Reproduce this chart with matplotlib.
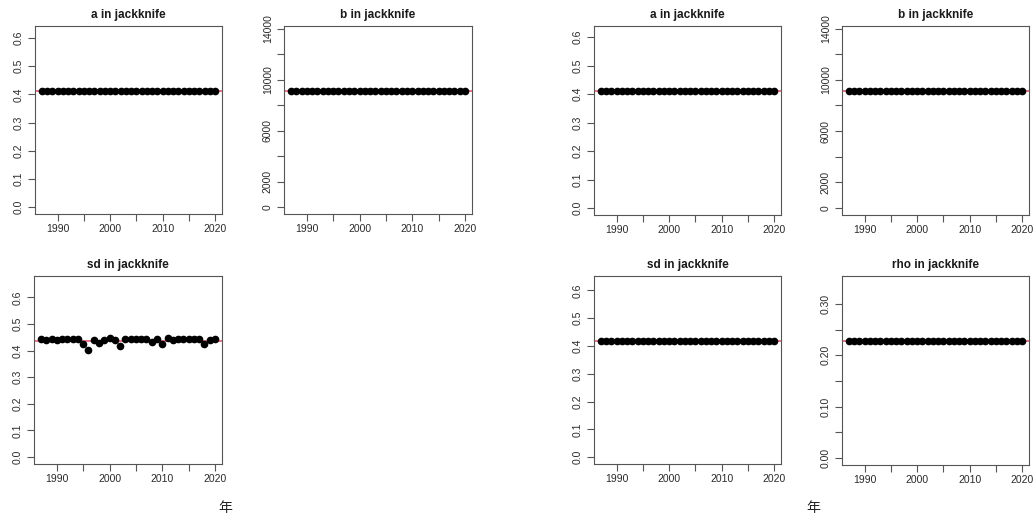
import numpy as np
import matplotlib.pyplot as plt

plt.rcParams['font.family'] = ['Liberation Sans', 'Noto Sans CJK SC', 'DejaVu Sans']

years = list(range(1987, 2021))

# left group: jackknife estimates
a_left = [0.412, 0.412, 0.412, 0.412, 0.412, 0.412, 0.412, 0.412, 0.412, 0.412, 0.412, 0.412,
          0.412, 0.412, 0.412, 0.412, 0.412, 0.412, 0.412, 0.412, 0.412, 0.412, 0.412, 0.412,
          0.412, 0.412, 0.412, 0.412, 0.412, 0.412, 0.412, 0.412, 0.412, 0.412]
b_left = [9120, 9120, 9120, 9120, 9120, 9120, 9120, 9120, 9120, 9120, 9120, 9120,
          9120, 9120, 9120, 9120, 9120, 9120, 9120, 9120, 9120, 9120, 9120, 9120,
          9120, 9120, 9120, 9120, 9120, 9120, 9120, 9120, 9120, 9120]
sd_left = [0.445, 0.438, 0.445, 0.439, 0.444, 0.445, 0.445, 0.445, 0.424, 0.401, 0.438, 0.427,
           0.440, 0.447, 0.439, 0.419, 0.443, 0.442, 0.445, 0.445, 0.444, 0.432, 0.445, 0.424,
           0.447, 0.438, 0.445, 0.444, 0.442, 0.445, 0.445, 0.423, 0.439, 0.445]
# full-data estimates (red lines)
a_left_full = 0.412
b_left_full = 9120
sd_left_full = 0.436

# right group
a_right = [0.410, 0.410, 0.410, 0.410, 0.410, 0.410, 0.410, 0.410, 0.410, 0.410, 0.410, 0.410,
           0.410, 0.410, 0.410, 0.410, 0.410, 0.410, 0.410, 0.410, 0.410, 0.410, 0.410, 0.410,
           0.410, 0.410, 0.410, 0.410, 0.410, 0.410, 0.410, 0.410, 0.410, 0.410]
b_right = [9100, 9100, 9100, 9100, 9100, 9100, 9100, 9100, 9100, 9100, 9100, 9100,
           9100, 9100, 9100, 9100, 9100, 9100, 9100, 9100, 9100, 9100, 9100, 9100,
           9100, 9100, 9100, 9100, 9100, 9100, 9100, 9100, 9100, 9100]
sd_right = [0.418, 0.418, 0.418, 0.418, 0.418, 0.418, 0.418, 0.418, 0.418, 0.418, 0.418, 0.418,
            0.418, 0.418, 0.418, 0.418, 0.418, 0.418, 0.418, 0.418, 0.418, 0.418, 0.418, 0.418,
            0.418, 0.418, 0.418, 0.418, 0.418, 0.418, 0.418, 0.418, 0.418, 0.418]
rho_right = [0.227, 0.227, 0.227, 0.227, 0.227, 0.227, 0.227, 0.227, 0.227, 0.227, 0.227, 0.227,
             0.227, 0.227, 0.227, 0.227, 0.227, 0.227, 0.227, 0.227, 0.227, 0.227, 0.227, 0.227,
             0.227, 0.227, 0.227, 0.227, 0.227, 0.227, 0.227, 0.227, 0.227, 0.227]
a_right_full = 0.410
b_right_full = 9100
sd_right_full = 0.418
rho_right_full = 0.227

x_ticks = [1990, 1995, 2000, 2005, 2010, 2015, 2020]
x_labels = ['1990', '', '2000', '', '2010', '', '2020']
frac_ticks = [0.0, 0.1, 0.2, 0.3, 0.4, 0.5, 0.6]
frac_labels = ['0.0', '0.1', '0.2', '0.3', '0.4', '0.5', '0.6']
b_ticks = [0, 2000, 4000, 6000, 8000, 10000, 12000, 14000]
b_labels = ['0', '2000', '', '6000', '', '10000', '', '14000']
rho_ticks = [0.00, 0.05, 0.10, 0.15, 0.20, 0.25, 0.30]
rho_labels = ['0.00', '', '0.10', '', '0.20', '', '0.30']

W, H = 1035, 521
fig = plt.figure(figsize=(W / 100, H / 100), dpi=100)
frame_col = '#555555'
text_col = '#2a2a2a'


def panel(box, vals, full, title, yt, yl):
    l, t, r, b = box
    ax = fig.add_axes([l / W, 1 - b / H, (r - l) / W, (b - t) / H])
    ax.axhline(full, color='#E0506A', lw=1.1, zorder=1)
    ax.plot(years, vals, 'o', color='black', ms=4.5, zorder=2)
    # R style limits: 0 .. 1.5 * estimate, with 4% padding
    hi = 1.5 * full
    ax.set_ylim(-0.04 * hi, 1.04 * hi)
    span = years[-1] - years[0]
    ax.set_xlim(years[0] - 0.04 * span, years[-1] + 0.04 * span)
    ax.set_xticks(x_ticks)
    ax.set_xticklabels(x_labels)
    ax.set_yticks(yt)
    ax.set_yticklabels(yl, rotation=90, va='center')
    ax.tick_params(direction='out', length=5, width=0.8, colors=frame_col,
                   labelcolor=text_col, labelsize=7.5)
    ax.tick_params(axis='x', pad=2)
    ax.tick_params(axis='y', pad=3)
    for s in ax.spines.values():
        s.set_color(frame_col)
        s.set_linewidth(0.8)
    ax.set_title(title, fontsize=8.5, fontweight='bold', pad=6, color='#1a1a1a')
    return ax


# left group
panel((35, 26, 222, 214), a_left, a_left_full, 'a in jackknife', frac_ticks, frac_labels)
panel((284, 26, 472, 214), b_left, b_left_full, 'b in jackknife', b_ticks, b_labels)
panel((34, 276, 222, 464), sd_left, sd_left_full, 'sd in jackknife', frac_ticks, frac_labels)

# right group
panel((594, 26, 781, 215), a_right, a_right_full, 'a in jackknife', frac_ticks, frac_labels)
panel((842, 26, 1029, 215), b_right, b_right_full, 'b in jackknife', b_ticks, b_labels)
panel((594, 276, 781, 464), sd_right, sd_right_full, 'sd in jackknife', frac_ticks, frac_labels)
panel((842, 276, 1029, 465), rho_right, rho_right_full, 'rho in jackknife', rho_ticks, rho_labels)

fig.text(225 / W, 1 - 508 / H, '年', fontsize=10, ha='center', va='center', color='#222222')
fig.text(813 / W, 1 - 508 / H, '年', fontsize=10, ha='center', va='center', color='#222222')

fig.savefig('out.png', dpi=100, facecolor='white')
